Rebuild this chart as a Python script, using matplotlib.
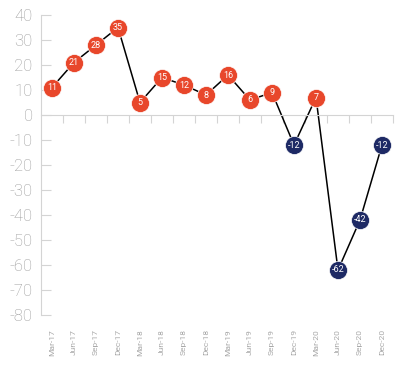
import matplotlib
matplotlib.use("Agg")
import matplotlib.pyplot as plt
import numpy as np

categories = ["Mar-17", "Jun-17", "Sep-17", "Dec-17", "Mar-18", "Jun-18", "Sep-18", "Dec-18",
              "Mar-19", "Jun-19", "Sep-19", "Dec-19", "Mar-20", "Jun-20", "Sep-20", "Dec-20"]
values = [11, 21, 28, 35, 5, 15, 12, 8, 16, 6, 9, -12, 7, -62, -42, -12]
y_ticks = [40, 30, 20, 10, 0, -10, -20, -30, -40, -50, -60, -70, -80]

ORANGE = "#e8472b"
NAVY = "#1e2a65"
GRAY = "#a8a8a8"
LIGHT = "#d4d4d4"

plt.rcParams["font.family"] = ["Roboto", "DejaVu Sans"]

fig = plt.figure(figsize=(4.11, 3.71), dpi=100)
ax = fig.add_axes([41/411, 1-315/371, (393-41)/411, 300/371])

x = np.arange(len(categories))
ax.plot(x, values, color="black", lw=1.1, zorder=2)
for xi, v in zip(x, values):
    c = ORANGE if v >= 0 else NAVY
    ax.plot(xi, v, "o", ms=13, color=c, mec="white", mew=0.5, zorder=3)
    ax.text(xi, v, str(v), color="white", ha="center", va="center",
            fontsize=6.5, zorder=4)

ax.set_xlim(-0.5, len(categories) - 0.5)
ax.set_ylim(-80, 40)

for s in ["top", "right"]:
    ax.spines[s].set_visible(False)
ax.spines["left"].set_color(LIGHT)
ax.spines["bottom"].set_position(("data", 0))
ax.spines["bottom"].set_color(LIGHT)

ax.set_yticks(y_ticks)
ax.set_yticklabels([str(t) for t in y_ticks], fontweight="light")
ax.tick_params(axis="y", direction="in", length=7, color=LIGHT,
               labelsize=12, pad=6)
for lbl in ax.get_yticklabels():
    lbl.set_color("#999999")

ax.set_xticks(x + 0.5)
ax.set_xticklabels([])
ax.tick_params(axis="x", direction="out", length=6, color=LIGHT)

sec = ax.secondary_xaxis("bottom")
sec.set_xticks(x)
sec.set_xticklabels(categories, rotation=90, fontsize=6, color=GRAY)
sec.tick_params(length=0, pad=10)
sec.spines["bottom"].set_visible(False)

fig.savefig("out.png", dpi=100)
